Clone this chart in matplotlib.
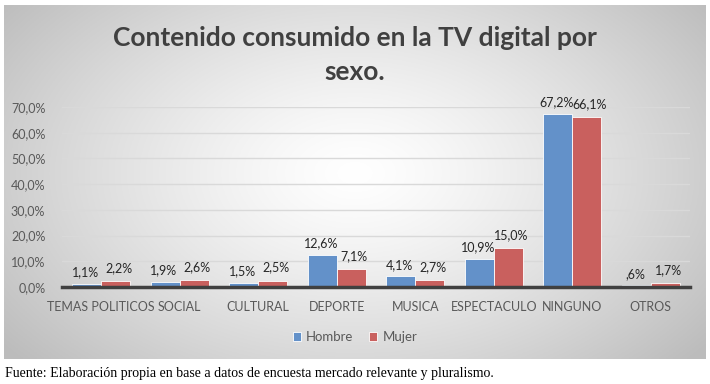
import numpy as np
import matplotlib.pyplot as plt
from matplotlib.ticker import FuncFormatter

categories = ["TEMAS POLITICOS", "SOCIAL", "CULTURAL", "DEPORTE", "MUSICA",
              "ESPECTACULO", "NINGUNO", "OTROS"]
hombre = [1.1, 1.9, 1.5, 12.6, 4.1, 10.9, 67.2, 0.6]
mujer = [2.2, 2.6, 2.5, 7.1, 2.7, 15.0, 66.1, 1.7]
hombre_labels = ["1,1%", "1,9%", "1,5%", "12,6%", "4,1%", "10,9%", "67,2%", ",6%"]
mujer_labels = ["2,2%", "2,6%", "2,5%", "7,1%", "2,7%", "15,0%", "66,1%", "1,7%"]

title = "Contenido consumido en la TV digital por\nsexo."
source = "Fuente: Elaboración propia en base a datos de encuesta mercado relevante y pluralismo."

W, H = 710, 384
fig = plt.figure(figsize=(W / 100, H / 100), dpi=100)
fig.patch.set_facecolor("white")

# chart box with radial gradient
box = [4 / W, (H - 359) / H, 702 / W, 354 / H]
bg = fig.add_axes(box, zorder=0)
gx, gy = np.meshgrid(np.linspace(-1, 1, 400), np.linspace(-1, 1, 200))
r = np.sqrt((gx * 0.95) ** 2 + ((gy + 0.05) * 0.75) ** 2)
shade = 1.0 - 0.26 * np.clip(r / 1.2, 0, 1) ** 1.3
bg.imshow(np.dstack([shade] * 3), aspect="auto", extent=[0, 1, 0, 1])
bg.set_axis_off()

ax = fig.add_axes([62 / W, (H - 287) / H, 628 / W, 180 / H], zorder=1)
ax.patch.set_alpha(0)

x = np.arange(len(categories))
bw = 0.37
blue = "#6391C9"
red = "#C9605E"
b1 = ax.bar(x - bw / 2, hombre, bw, color=blue, edgecolor="white", linewidth=0.6, label="Hombre", zorder=3)
b2 = ax.bar(x + bw / 2, mujer, bw, color=red, edgecolor="white", linewidth=0.6, label="Mujer", zorder=3)

for xi, v, t in zip(x, hombre, hombre_labels):
    ax.annotate(t, (xi - bw / 2, v), xytext=(-1, 4), textcoords="offset points",
                ha="center", va="bottom", fontsize=9, color="#262626", family="Lato")
for xi, v, t in zip(x, mujer, mujer_labels):
    ax.annotate(t, (xi + bw / 2, v), xytext=(2, 5), textcoords="offset points",
                ha="center", va="bottom", fontsize=9, color="#262626", family="Lato")

ax.set_xlim(-0.5, len(categories) - 0.5)
ax.set_ylim(0, 70)
ax.set_yticks(np.arange(0, 71, 10))
ax.yaxis.set_major_formatter(FuncFormatter(lambda v, p: f"{v:.1f}%".replace(".", ",")))
ax.set_xticks(x)
ax.set_xticklabels(categories)
ax.tick_params(length=0, labelsize=9, colors="#595959", pad=10)
ax.tick_params(axis="y", pad=12)
for lab in ax.get_xticklabels() + ax.get_yticklabels():
    lab.set_family("Lato")
ax.grid(axis="y", color="#d9d9d9", linewidth=1, zorder=0)
for s in ["top", "right", "left"]:
    ax.spines[s].set_visible(False)
ax.spines["bottom"].set_color("#404040")
ax.spines["bottom"].set_linewidth(2.5)
ax.spines["bottom"].set_zorder(4)

fig.text(355 / W, 1 - 55 / H, title, ha="center", va="center", fontsize=19,
         fontweight="bold", color="#404040", family="Lato", linespacing=1.5)

fig.legend(handles=[b1, b2], loc="center", bbox_to_anchor=(355 / W, 1 - 337 / H),
           ncol=2, frameon=False, handlelength=0.6, handleheight=0.6,
           columnspacing=1.2, handletextpad=0.4, prop={"family": "Lato", "size": 9.5},
           labelcolor="#595959")

fig.text(5 / W, 1 - 373 / H, source, ha="left", va="center", fontsize=10,
         family="Liberation Serif", color="black")

fig.savefig("out.png", dpi=100)
